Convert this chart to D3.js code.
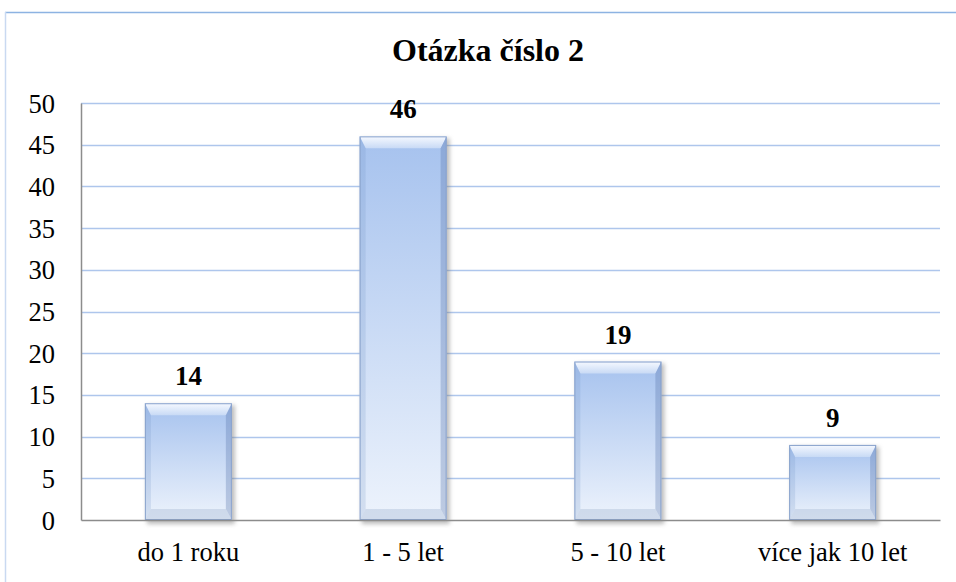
<!DOCTYPE html>
<html lang="cs">
<head>
    <meta charset="UTF-8">
    <title>Otázka číslo 2</title>
    <script src="https://d3js.org/d3.v7.min.js"></script>
    <style>
        body { margin: 0; background: #fff; }
    </style>
</head>
<body>
    <div class="chart"></div>
    <script>
        // data
        const categories = ['do 1 roku', '1 - 5 let', '5 - 10 let', 'více jak 10 let'];
        const values = [14, 46, 19, 9];
        const yTicks = [0, 5, 10, 15, 20, 25, 30, 35, 40, 45, 50];
        const title = 'Otázka číslo 2';

        const width = 956;
        const height = 582;
        const margin = { top: 103, right: 16, bottom: 62, left: 81 };
        const serif = '"Liberation Serif", "Times New Roman", Tinos, "DejaVu Serif", serif';

        const svg = d3.select('.chart')
        .append('svg')
        .attr('width', width)
        .attr('height', height);

        const defs = svg.append('defs');

        const grad = defs.append('linearGradient')
        .attr('id', 'barFill')
        .attr('x1', 0).attr('y1', 0).attr('x2', 0).attr('y2', 1);
        grad.append('stop').attr('offset', '0%').attr('stop-color', '#a6c2ee');
        grad.append('stop').attr('offset', '100%').attr('stop-color', '#edf3fc');

        const topGrad = defs.append('linearGradient')
        .attr('id', 'topBevel')
        .attr('x1', 0).attr('y1', 0).attr('x2', 0).attr('y2', 1);
        topGrad.append('stop').attr('offset', '0%').attr('stop-color', '#f6f9ff');
        topGrad.append('stop').attr('offset', '100%').attr('stop-color', '#c8daf5');

        const shadow = defs.append('filter')
        .attr('id', 'shadow')
        .attr('x', '-20%').attr('y', '-20%').attr('width', '140%').attr('height', '140%');
        shadow.append('feGaussianBlur').attr('stdDeviation', 2);

        // outer frame
        svg.append('line')
        .attr('x1', 5).attr('x2', width).attr('y1', 12.5).attr('y2', 12.5)
        .attr('stroke', '#8db3e2').attr('stroke-width', 1.5);
        svg.append('line')
        .attr('x1', 5.5).attr('x2', 5.5).attr('y1', 12).attr('y2', height)
        .attr('stroke', '#c9d9f1').attr('stroke-width', 1.5);

        svg.append('text')
        .attr('x', 488)
        .attr('y', 61)
        .attr('text-anchor', 'middle')
        .style('font-family', serif)
        .style('font-size', '32px')
        .style('font-weight', 'bold')
        .text(title);

        const xScale = d3.scaleBand()
        .domain(categories)
        .range([margin.left, width - margin.right])
        .paddingInner(0.595)
        .paddingOuter(0.2975);

        const yScale = d3.scaleLinear()
        .domain([0, 50])
        .range([height - margin.bottom, margin.top]);

        // gridlines
        svg.append('g')
        .selectAll('line')
        .data(yTicks.filter(d => d > 0))
        .enter()
        .append('line')
        .attr('x1', margin.left)
        .attr('x2', width - margin.right)
        .attr('y1', d => Math.round(yScale(d)) + 0.5)
        .attr('y2', d => Math.round(yScale(d)) + 0.5)
        .attr('stroke', '#aec6ec')
        .attr('stroke-width', 1.3);

        // y axis
        const yAxis = svg.append('g')
        .attr('transform', `translate(${margin.left},0)`)
        .call(d3.axisLeft(yScale).tickValues(yTicks).tickSize(0).tickPadding(26));
        yAxis.attr('font-family', null);
        yAxis.select('.domain').attr('stroke', '#8c8c8c').attr('stroke-width', 1.5);
        yAxis.selectAll('text')
        .style('font-family', serif)
        .style('font-size', '26.5px')
        .attr('fill', '#000')
        .attr('dy', '0.34em');

        // bars
        const bw = xScale.bandwidth();
        const bars = svg.append('g')
        .selectAll('g')
        .data(values)
        .enter()
        .append('g')
        .attr('transform', (d, i) => `translate(${xScale(categories[i])},${yScale(d)})`);

        const barH = d => yScale(0) - yScale(d);

        bars.append('rect')
        .attr('x', 2).attr('y', 2)
        .attr('width', bw + 1)
        .attr('height', d => barH(d) + 2)
        .attr('fill', '#7a7a7a')
        .attr('opacity', 0.5)
        .attr('filter', 'url(#shadow)');

        bars.append('rect')
        .attr('width', bw)
        .attr('height', barH)
        .attr('fill', 'url(#barFill)');

        const bt = 12, bs = 6, bb = 11;
        // top bevel
        bars.append('polygon')
        .attr('points', `0,0 ${bw},0 ${bw - bs},${bt} ${bs},${bt}`)
        .attr('fill', 'url(#topBevel)');
        // left bevel
        bars.append('polygon')
        .attr('points', d => `0,0 ${bs},${bt} ${bs},${barH(d) - bb} 0,${barH(d)}`)
        .attr('fill', '#6f8fc4').attr('opacity', 0.2);
        // right bevel
        bars.append('polygon')
        .attr('points', d => `${bw},0 ${bw},${barH(d)} ${bw - bs},${barH(d) - bb} ${bw - bs},${bt}`)
        .attr('fill', '#4f6ea5').attr('opacity', 0.3);
        // bottom bevel
        bars.append('polygon')
        .attr('points', d => `0,${barH(d)} ${bs},${barH(d) - bb} ${bw - bs},${barH(d) - bb} ${bw},${barH(d)}`)
        .attr('fill', '#b4c3dc').attr('opacity', 0.5);
        bars.append('rect')
        .attr('x', 0.5).attr('y', 0.5)
        .attr('width', bw - 1)
        .attr('height', d => barH(d) - 1)
        .attr('fill', 'none')
        .attr('stroke', '#8aa3cc')
        .attr('stroke-width', 1);

        // x axis
        const xAxis = svg.append('g')
        .attr('transform', `translate(0,${yScale(0)})`)
        .call(d3.axisBottom(xScale).tickSize(0).tickPadding(22));
        xAxis.attr('font-family', null);
        xAxis.select('.domain').attr('stroke', '#8c8c8c').attr('stroke-width', 1.5);
        xAxis.selectAll('text')
        .style('font-family', serif)
        .style('font-size', '26.5px')
        .attr('fill', '#000')
        .attr('dy', '0.71em');

        // value labels
        svg.append('g')
        .selectAll('text')
        .data(values)
        .enter()
        .append('text')
        .attr('x', (d, i) => xScale(categories[i]) + bw / 2)
        .attr('y', d => yScale(d) - 18)
        .attr('text-anchor', 'middle')
        .style('font-family', serif)
        .style('font-size', '27px')
        .style('font-weight', 'bold')
        .text(d => d);
    </script>
</body>
</html>
